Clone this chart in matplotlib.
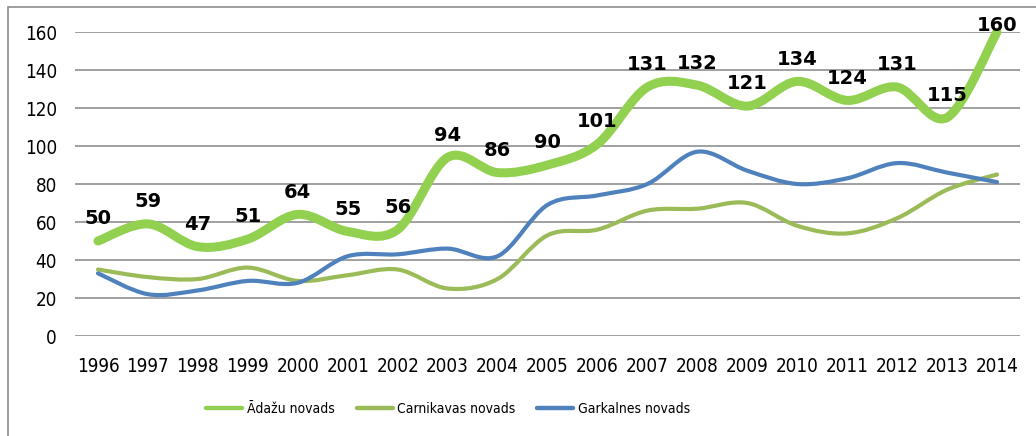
import numpy as np
import matplotlib
matplotlib.use('Agg')
import matplotlib.pyplot as plt
from matplotlib.path import Path
from matplotlib.patches import PathPatch, Rectangle
from matplotlib.lines import Line2D
from matplotlib import font_manager

plt.rcParams['font.family'] = ['DejaVu Sans']
plt.rcParams['font.stretch'] = 'condensed'

years = ['1996', '1997', '1998', '1999', '2000', '2001', '2002', '2003', '2004', '2005',
         '2006', '2007', '2008', '2009', '2010', '2011', '2012', '2013', '2014']
adazu = [50, 59, 47, 51, 64, 55, 56, 94, 86, 90, 101, 131, 132, 121, 134, 124, 131, 115, 160]
carnikava = [35, 31, 30, 36, 29, 32, 35, 25, 30, 53, 56, 66, 67, 70, 58, 54, 62, 77, 85]
garkalne = [33, 22, 24, 29, 28, 42, 43, 46, 42, 69, 74, 80, 97, 87, 80, 83, 91, 86, 81]
names = ['Ādažu novads', 'Carnikavas novads', 'Garkalnes novads']

installed = {f.name for f in font_manager.fontManager.ttflist}
legend_family = 'Liberation Sans Narrow' if 'Liberation Sans Narrow' in installed else 'DejaVu Sans'


def smooth_path(y):
    # excel-style smoothed line: bezier segments through the points
    x = np.arange(len(y), dtype=float)
    p = np.column_stack([x, np.asarray(y, dtype=float)])
    pp = np.vstack([p[0], p, p[-1]])
    verts = [p[0]]
    codes = [Path.MOVETO]
    for i in range(len(p) - 1):
        c1 = pp[i + 1] + (pp[i + 2] - pp[i]) / 6
        c2 = pp[i + 2] - (pp[i + 3] - pp[i + 1]) / 6
        verts += [c1, c2, p[i + 1]]
        codes += [Path.CURVE4] * 3
    return Path(verts, codes)


fig = plt.figure(figsize=(10.36, 4.36), dpi=100)
ax = fig.add_axes([75 / 1036, 1 - 336 / 436, 945 / 1036, 304 / 436])

# thin lines first, thick green on top
for vals, col, lw in [(carnikava, '#9BBB59', 3.0), (garkalne, '#4F81BD', 3.0), (adazu, '#92D050', 6.5)]:
    ax.add_patch(PathPatch(smooth_path(vals), facecolor='none', edgecolor=col, lw=lw,
                           capstyle='round', joinstyle='round', clip_on=False, zorder=3))

for i, v in enumerate(adazu):
    off = 12 if v < 150 else 1
    ax.annotate(str(v), (i, v), xytext=(0, off), textcoords='offset points',
                ha='center', va='baseline', fontsize=14, fontweight='bold',
                fontstretch='normal', zorder=5)

ax.set_xlim(-0.46, len(years) - 1 + 0.46)
ax.set_ylim(0, 160)
ax.set_yticks(range(0, 161, 20))
ax.set_xticks(range(len(years)))
ax.set_xticklabels(years)
ax.yaxis.grid(True, color='#868686', lw=1.1)
ax.set_axisbelow(True)
for s in ax.spines.values():
    s.set_visible(False)
ax.tick_params(axis='both', length=0, labelsize=13.5)
ax.tick_params(axis='y', pad=13)
ax.tick_params(axis='x', pad=15)

handles = [Line2D([], [], color=c, lw=3.2, solid_capstyle='round')
           for c in ['#92D050', '#9BBB59', '#4F81BD']]
fig.legend(handles, names, loc='center', bbox_to_anchor=(448 / 1036, 1 - 409 / 436), ncol=3,
           frameon=False, prop={'family': legend_family, 'size': 10},
           handlelength=2.6, handletextpad=0.3, columnspacing=1.6)

fig.add_artist(Rectangle((8 / 1036, -0.1), 1.2, 1.1 - 7 / 436, transform=fig.transFigure,
                         fill=False, edgecolor='#8c8c8c', lw=1.2))

fig.savefig('out.png', dpi=100)
